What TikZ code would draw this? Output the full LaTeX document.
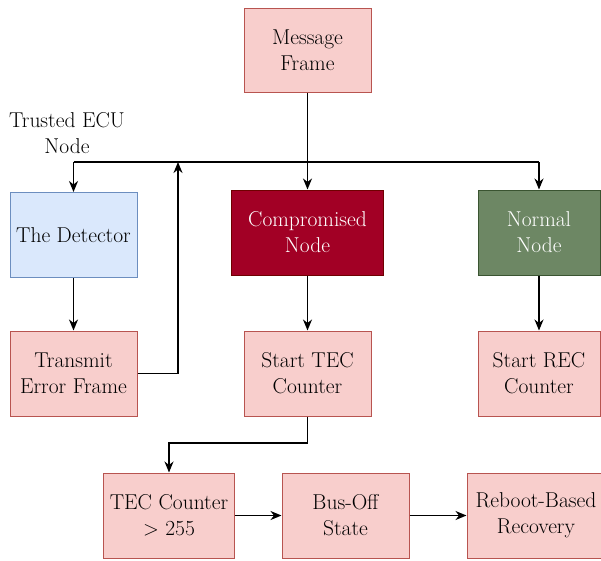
\documentclass[tikz,border=0pt]{standalone}
\usetikzlibrary{arrows.meta}
\definecolor{pinkfill}{HTML}{F8CECC}
\definecolor{pinkdraw}{HTML}{B85450}
\definecolor{bluefill}{HTML}{DAE8FC}
\definecolor{bluedraw}{HTML}{6C8EBF}
\definecolor{redfill}{HTML}{A20025}
\definecolor{reddraw}{HTML}{6F0000}
\definecolor{greenfill}{HTML}{6D8764}
\definecolor{greendraw}{HTML}{3A5431}
\begin{document}
\begin{tikzpicture}[x=1pt,y=-1pt,
  box/.style={rectangle, draw=pinkdraw, fill=pinkfill, line width=1pt, align=center,
    inner sep=0pt, minimum height=85pt, font=\fontsize{21.5}{26}\selectfont},
  bluebox/.style={box, draw=bluedraw, fill=bluefill},
  redbox/.style={box, draw=reddraw, fill=redfill, text=white},
  greenbox/.style={box, draw=greendraw, fill=greenfill, text=white},
  conn/.style={line width=1.4pt},
  arr/.style={conn, -{Stealth[length=11pt,width=9pt,inset=3.5pt]}}]
\useasboundingbox (0,0) rectangle (601,560);
\fill[white] (0,0) rectangle (601,560);

\node[box, minimum width=127pt, minimum height=84pt] (msg) at (307.5,50) {Message\\Frame};
\node[bluebox, minimum width=127pt] (det) at (73.5,235) {The Detector};
\node[redbox, minimum width=152pt] (comp) at (307.5,232.5) {Compromised\\Node};
\node[greenbox, minimum width=122pt] (norm) at (539,232.5) {Normal\\Node};
\node[box, minimum width=127pt] (tx) at (73.5,373.5) {Transmit\\Error Frame};
\node[box, minimum width=127pt] (stec) at (307.5,373.5) {Start TEC\\Counter};
\node[box, minimum width=122pt] (srec) at (539,373.5) {Start REC\\Counter};
\node[box, minimum width=131pt] (tec) at (169,515.5) {TEC Counter\\$>$ 255};
\node[box, minimum width=127pt] (bus) at (345.5,515.5) {Bus-Off\\State};
\node[box, minimum width=138pt] (reb) at (536,515.5) {Reboot-Based\\Recovery};

\node[font=\fontsize{21.5}{26}\selectfont, align=center] (trust) at (67,133.5) {Trusted ECU\\Node};

\coordinate (jl) at (73.5,162);
\coordinate (jr) at (539,162);
\coordinate (jt) at (178,162);
\coordinate (tr) at (178,373.5);
\coordinate (sd) at (307.5,443);
\coordinate (sl) at (169,443);

\draw[arr] (msg.south) -- (comp.north);
\draw[conn] (jl) -- (jr);
\draw[arr] (jl) -- (det.north);
\draw[arr] (jr) -- (norm.north);
\draw[arr] (det.south) -- (tx.north);
\draw[arr] (tx.east) -- (tr) -- (jt);
\draw[arr] (comp.south) -- (stec.north);
\draw[arr] (norm.south) -- (srec.north);
\draw[arr] (stec.south) -- (sd) -- (sl) -- (tec.north);
\draw[arr] (tec.east) -- (bus.west);
\draw[arr] (bus.east) -- (reb.west);
\end{tikzpicture}
\end{document}
